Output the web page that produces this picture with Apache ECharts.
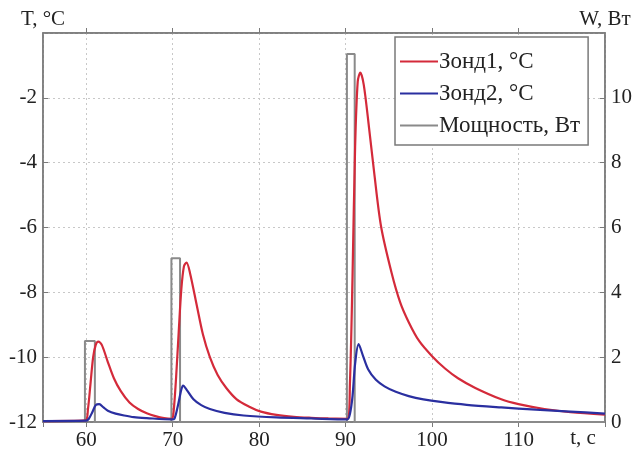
<!DOCTYPE html>
<html><head><meta charset="utf-8">
<script src="https://cdn.jsdelivr.net/npm/echarts@6/dist/echarts.min.js"></script>
<style>html,body{margin:0;padding:0;background:#fff}#c{width:644px;height:455px}</style>
</head><body><div id="c"></div>
<script>
const seriesNames = ['Зонд1, °C', 'Зонд2, °C', 'Мощность, Вт'];
const xAxisName = 't, c';
const yLeftName = 'T, °C';
const yRightName = 'W, Вт';

const probe1T = [55, 59.9, 60.2, 60.5, 60.8, 61.1, 61.4, 61.8, 62.5, 63.2, 64, 65, 66, 67, 68, 69, 69.9, 70.1, 70.4, 70.7, 71.0, 71.3, 71.6, 72, 72.8, 73.5, 74.3, 75.2, 76.2, 77.4, 78.8, 80.2, 82, 84, 86, 88, 90.2, 90.5, 90.8, 91.1, 91.4, 91.7, 92.1, 92.7, 93.3, 94.1, 95.3, 96.3, 97.3, 98.5, 100, 101.5, 103, 105, 108, 110, 113, 116, 120];
const probe1V = [-11.97, -11.95, -11.6, -10.8, -10.0, -9.62, -9.52, -9.62, -10.15, -10.65, -11.05, -11.4, -11.6, -11.73, -11.82, -11.88, -11.9, -11.7, -10.6, -9.2, -7.9, -7.2, -7.08, -7.4, -8.42, -9.3, -10.0, -10.55, -10.95, -11.3, -11.52, -11.68, -11.78, -11.84, -11.87, -11.89, -11.9, -10.8, -7.5, -3.5, -1.5, -1.22, -1.6, -2.9, -4.3, -5.97, -7.38, -8.3, -8.92, -9.5, -9.97, -10.35, -10.65, -10.95, -11.3, -11.45, -11.6, -11.7, -11.77];

const probe2T = [55, 60.0, 60.3, 60.7, 61.1, 61.5, 62.0, 62.5, 63.4, 64.4, 65.5, 67, 69.9, 70.2, 70.6, 71.0, 71.2, 71.6, 72.4, 73.3, 74.3, 76, 78.2, 82, 86, 90.2, 90.5, 90.8, 91.1, 91.5, 92.0, 92.6, 93.5, 94.5, 95.8, 97.3, 99, 101, 104, 108, 112, 116, 120];
const probe2V = [-11.97, -11.96, -11.9, -11.7, -11.48, -11.45, -11.55, -11.65, -11.74, -11.8, -11.85, -11.88, -11.92, -11.9, -11.5, -11.0, -10.88, -11.0, -11.3, -11.48, -11.6, -11.72, -11.8, -11.86, -11.89, -11.92, -11.75, -11.2, -10.2, -9.6, -9.95, -10.37, -10.7, -10.9, -11.07, -11.2, -11.3, -11.38, -11.47, -11.55, -11.62, -11.68, -11.74];

const powerT = [55, 59.85, 59.85, 61.0, 61.0, 69.85, 69.85, 70.85, 70.85, 90.15, 90.15, 91.05, 91.05, 120];
const powerV = [0, 0, 2.5, 2.5, 0, 0, 5.05, 5.05, 0, 0, 11.35, 11.35, 0, 0];

const xTicks = [60, 70, 80, 90, 100, 110];

function zip(a, b) { return a.map((v, i) => [v, b[i]]); }

const FONT = 'Liberation Serif';
const TXT = '#222';
const AX = '#7a7a7a';
const C1 = '#d42a3a', C2 = '#2a2fa0', C3 = '#8a8a8a';

const chart = echarts.init(document.getElementById('c'), null, {renderer: 'canvas'});
chart.setOption({
  animation: false,
  backgroundColor: '#fff',
  textStyle: {fontFamily: FONT, color: TXT},
  grid: {left: 43, right: 39, top: 33, bottom: 33, show: true, borderColor: AX, borderWidth: 1.5, containLabel: false},
  legend: {
    data: seriesNames.map((n, i) => ({name: n, icon: 'rect', itemStyle: {color: [C1, C2, C3][i]}})),
    left: 395, top: 37,
    orient: 'vertical',
    backgroundColor: '#fff',
    borderColor: AX, borderWidth: 1.5,
    padding: [13, 8, 8, 5],
    itemGap: 9,
    itemWidth: 38, itemHeight: 2,
    textStyle: {fontFamily: FONT, fontSize: 23, color: TXT, padding: [0, 0, 0, -4]}
  },
  graphic: [{
    type: 'text', x: 583, y: 438,
    style: {text: xAxisName, font: '21px "Liberation Serif"', fill: TXT, align: 'center', verticalAlign: 'middle'}
  }],
  xAxis: [{
    type: 'value', min: 55, max: 120, position: 'bottom',
    axisLine: {show: true, lineStyle: {color: AX, width: 1.5}},
    axisTick: {show: true, inside: true, length: 5, lineStyle: {color: AX}},
    axisLabel: {fontFamily: FONT, fontSize: 21, color: TXT, margin: 8, showMinLabel: false, showMaxLabel: false,
      formatter: v => xTicks.includes(v) ? String(v) : ''},
    splitLine: {show: true, lineStyle: {color: '#c8c8c8', type: [2, 3], width: 1}}
  }, {
    type: 'value', min: 55, max: 120, position: 'top',
    axisLine: {show: true, lineStyle: {color: AX, width: 1.5}},
    axisTick: {show: true, inside: true, length: 5, lineStyle: {color: AX}},
    axisLabel: {show: false},
    splitLine: {show: false}
  }],
  yAxis: [{
    type: 'value', min: -12, max: 0, interval: 2, position: 'left',
    axisLine: {show: true, lineStyle: {color: AX, width: 1.5}},
    axisTick: {show: true, inside: true, length: 5, lineStyle: {color: AX}},
    axisLabel: {fontFamily: FONT, fontSize: 21, color: TXT, margin: 6, showMaxLabel: false},
    splitLine: {show: true, lineStyle: {color: '#c8c8c8', type: [2, 3], width: 1}},
    name: yLeftName, nameLocation: 'end', nameGap: 3,
    nameTextStyle: {fontFamily: FONT, fontSize: 21, color: TXT, align: 'center'}
  }, {
    type: 'value', min: 0, max: 12, interval: 2, position: 'right',
    axisLine: {show: true, lineStyle: {color: AX, width: 1.5}},
    axisTick: {show: true, inside: true, length: 5, lineStyle: {color: AX}},
    axisLabel: {fontFamily: FONT, fontSize: 21, color: TXT, margin: 6, showMaxLabel: false},
    splitLine: {show: false},
    name: yRightName, nameLocation: 'end', nameGap: 3,
    nameTextStyle: {fontFamily: FONT, fontSize: 21, color: TXT, align: 'center'}
  }],
  series: [{
    name: seriesNames[0], type: 'line', xAxisIndex: 0, yAxisIndex: 0,
    data: zip(probe1T, probe1V), symbol: 'none', smooth: 0.3,
    lineStyle: {color: C1, width: 2.2}, itemStyle: {color: C1}, z: 3
  }, {
    name: seriesNames[1], type: 'line', xAxisIndex: 0, yAxisIndex: 0,
    data: zip(probe2T, probe2V), symbol: 'none', smooth: 0.3,
    lineStyle: {color: C2, width: 2.2}, itemStyle: {color: C2}, z: 4
  }, {
    name: seriesNames[2], type: 'line', xAxisIndex: 0, yAxisIndex: 1,
    data: zip(powerT, powerV), symbol: 'none',
    lineStyle: {color: C3, width: 2}, itemStyle: {color: C3}, z: 2
  }]
});
</script></body></html>
